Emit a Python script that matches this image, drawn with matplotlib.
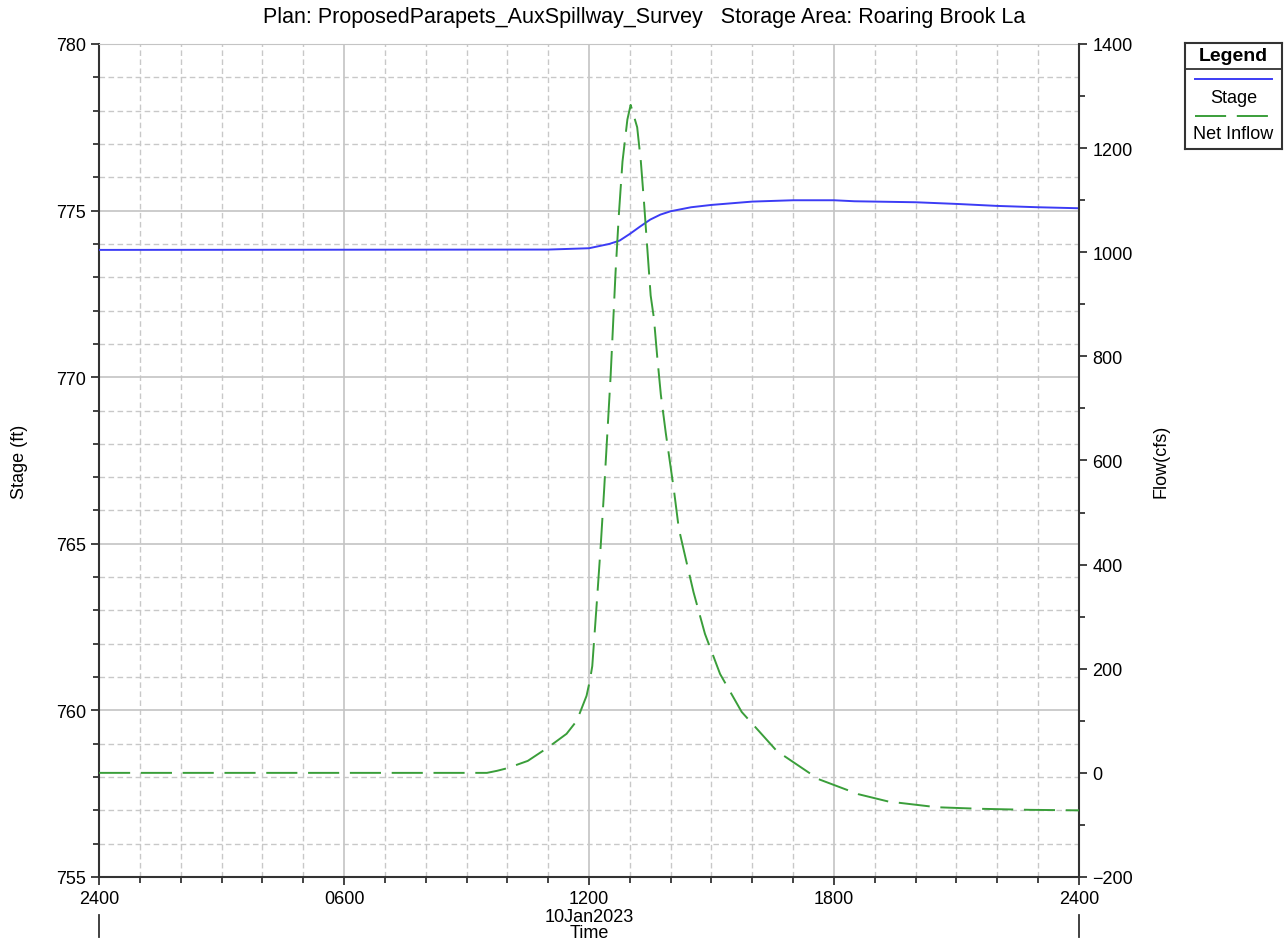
import matplotlib
matplotlib.use("Agg")
import matplotlib.pyplot as plt
from matplotlib.ticker import MultipleLocator
from matplotlib.lines import Line2D

plt.rcParams['font.family'] = ['Liberation Sans', 'DejaVu Sans']

title = "Plan: ProposedParapets_AuxSpillway_Survey   Storage Area: Roaring Brook La"

# hours after 2400 on 09Jan2023
stage_t = [0, 11.0, 11.5, 12.0, 12.5, 12.75, 13.0, 13.25, 13.5, 13.75, 14.0, 14.5,
           15.0, 15.5, 16.0, 17.0, 18.0, 18.5, 19.0, 20.0, 21.0, 22.0, 23.0, 24.0]
stage = [773.82, 773.83, 773.85, 773.87, 774.0, 774.1, 774.3, 774.52, 774.73, 774.88,
         774.98, 775.1, 775.17, 775.22, 775.27, 775.31, 775.31, 775.28, 775.27, 775.25,
         775.2, 775.14, 775.1, 775.07]

flow_t = [0, 9.5, 9.75, 10.0, 10.5, 11.0, 11.45, 11.7, 11.94, 12.02, 12.08, 12.2, 12.29,
          12.37, 12.45, 12.53, 12.65, 12.73, 12.82, 12.94, 13.02, 13.18, 13.27, 13.35,
          13.43, 13.51, 13.59, 13.67, 13.76, 13.88, 13.96, 14.08, 14.2, 14.37, 14.56,
          14.84, 15.21, 15.74, 16.6, 17.62, 18.6, 19.33, 20.52, 21.58, 22.8, 24.0]
flow = [0, 0, 4, 9, 23, 49, 75, 100, 148, 177, 205, 337, 440, 543, 653, 763, 961, 1071,
        1174, 1255, 1283, 1240, 1174, 1093, 1005, 917, 873, 800, 726, 653, 609, 543, 469,
        411, 347, 267, 190, 117, 42, -12, -41, -55, -66, -69, -71, -72]

xtick_pos = [0, 6, 12, 18, 24]
xtick_labels = ["2400", "0600", "1200", "1800", "2400"]

fig = plt.figure(figsize=(12.88, 9.45), dpi=100)
ax = fig.add_axes([0.0769, 0.0709, 0.7608, 0.8815])

ax.set_xlim(0, 24)
ax.set_ylim(755, 780)
ax.xaxis.set_major_locator(MultipleLocator(6))
ax.xaxis.set_minor_locator(MultipleLocator(1))
ax.yaxis.set_major_locator(MultipleLocator(5))
ax.yaxis.set_minor_locator(MultipleLocator(1))
ax.set_xticks(xtick_pos)
ax.set_xticklabels(xtick_labels)
ax.grid(which='major', color='#c4c4c4', lw=1.2, ls='-')
ax.grid(which='minor', color='#c8c8c8', lw=1.0, ls=(0, (4, 2.5)))
ax.set_axisbelow(True)
ax.tick_params(which='both', direction='out', labelsize=13, color='#222222')
ax.tick_params(which='major', length=6, width=1.2)
ax.tick_params(which='minor', length=4, width=1.2)
ax.set_ylabel("Stage (ft)", fontsize=13, labelpad=20)
for s in ['left', 'bottom']:
    ax.spines[s].set_color('#333333')
    ax.spines[s].set_linewidth(1.5)
ax.spines['top'].set_color('#c4c4c4')
ax.spines['right'].set_visible(False)

ax.plot(stage_t, stage, color='#3c3cf5', lw=1.4, zorder=3)

ax2 = ax.twinx()
ax2.set_ylim(-200, 1400)
ax2.yaxis.set_major_locator(MultipleLocator(200))
ax2.yaxis.set_minor_locator(MultipleLocator(100))
ax2.tick_params(which='both', direction='out', labelsize=13, color='#222222')
ax2.tick_params(which='major', length=6, width=1.2)
ax2.tick_params(which='minor', length=4, width=1.2)
ax2.set_ylabel("Flow(cfs)", fontsize=13, labelpad=14)
ax2.spines['right'].set_color('#333333')
ax2.spines['right'].set_linewidth(1.5)
for s in ['top', 'left', 'bottom']:
    ax2.spines[s].set_visible(False)
ax2.plot(flow_t, flow, color='#3a9e3a', lw=1.4, ls=(0, (16, 5.5)), zorder=3)

# day markers and date under the time axis
tr = ax.get_xaxis_transform()
for d in [0, 24]:
    ax.plot([d, d], [-0.046, -0.072], transform=tr, color='#333333', lw=1.3, clip_on=False)
ax.text(12, -0.037, "10Jan2023", transform=tr, ha='center', va='top', fontsize=13)
ax.text(12, -0.056, "Time", transform=tr, ha='center', va='top', fontsize=13)

fig.text(0.5, 1 - 18 / 945, title, ha='center', va='center', fontsize=15.5)

# legend box
lg = fig.add_axes([0.920, 0.8413, 0.0753, 0.1122])
lg.set_xlim(0, 1)
lg.set_ylim(0, 1)
lg.set_xticks([])
lg.set_yticks([])
for s in lg.spines.values():
    s.set_color('#333333')
    s.set_linewidth(1.5)
lg.text(0.5, 0.877, "Legend", ha='center', va='center', fontsize=14, fontweight='bold')
lg.add_line(Line2D([0, 1], [0.755, 0.755], color='#333333', lw=1.3))
lg.add_line(Line2D([0.1, 0.9], [0.66, 0.66], color='#3c3cf5', lw=1.4))
lg.text(0.5, 0.49, "Stage", ha='center', va='center', fontsize=13)
lg.add_line(Line2D([0.1, 0.9], [0.31, 0.31], color='#3a9e3a', lw=1.4, ls=(0, (16, 5.5))))
lg.text(0.5, 0.15, "Net Inflow", ha='center', va='center', fontsize=13)

fig.savefig("out.png", dpi=100)
